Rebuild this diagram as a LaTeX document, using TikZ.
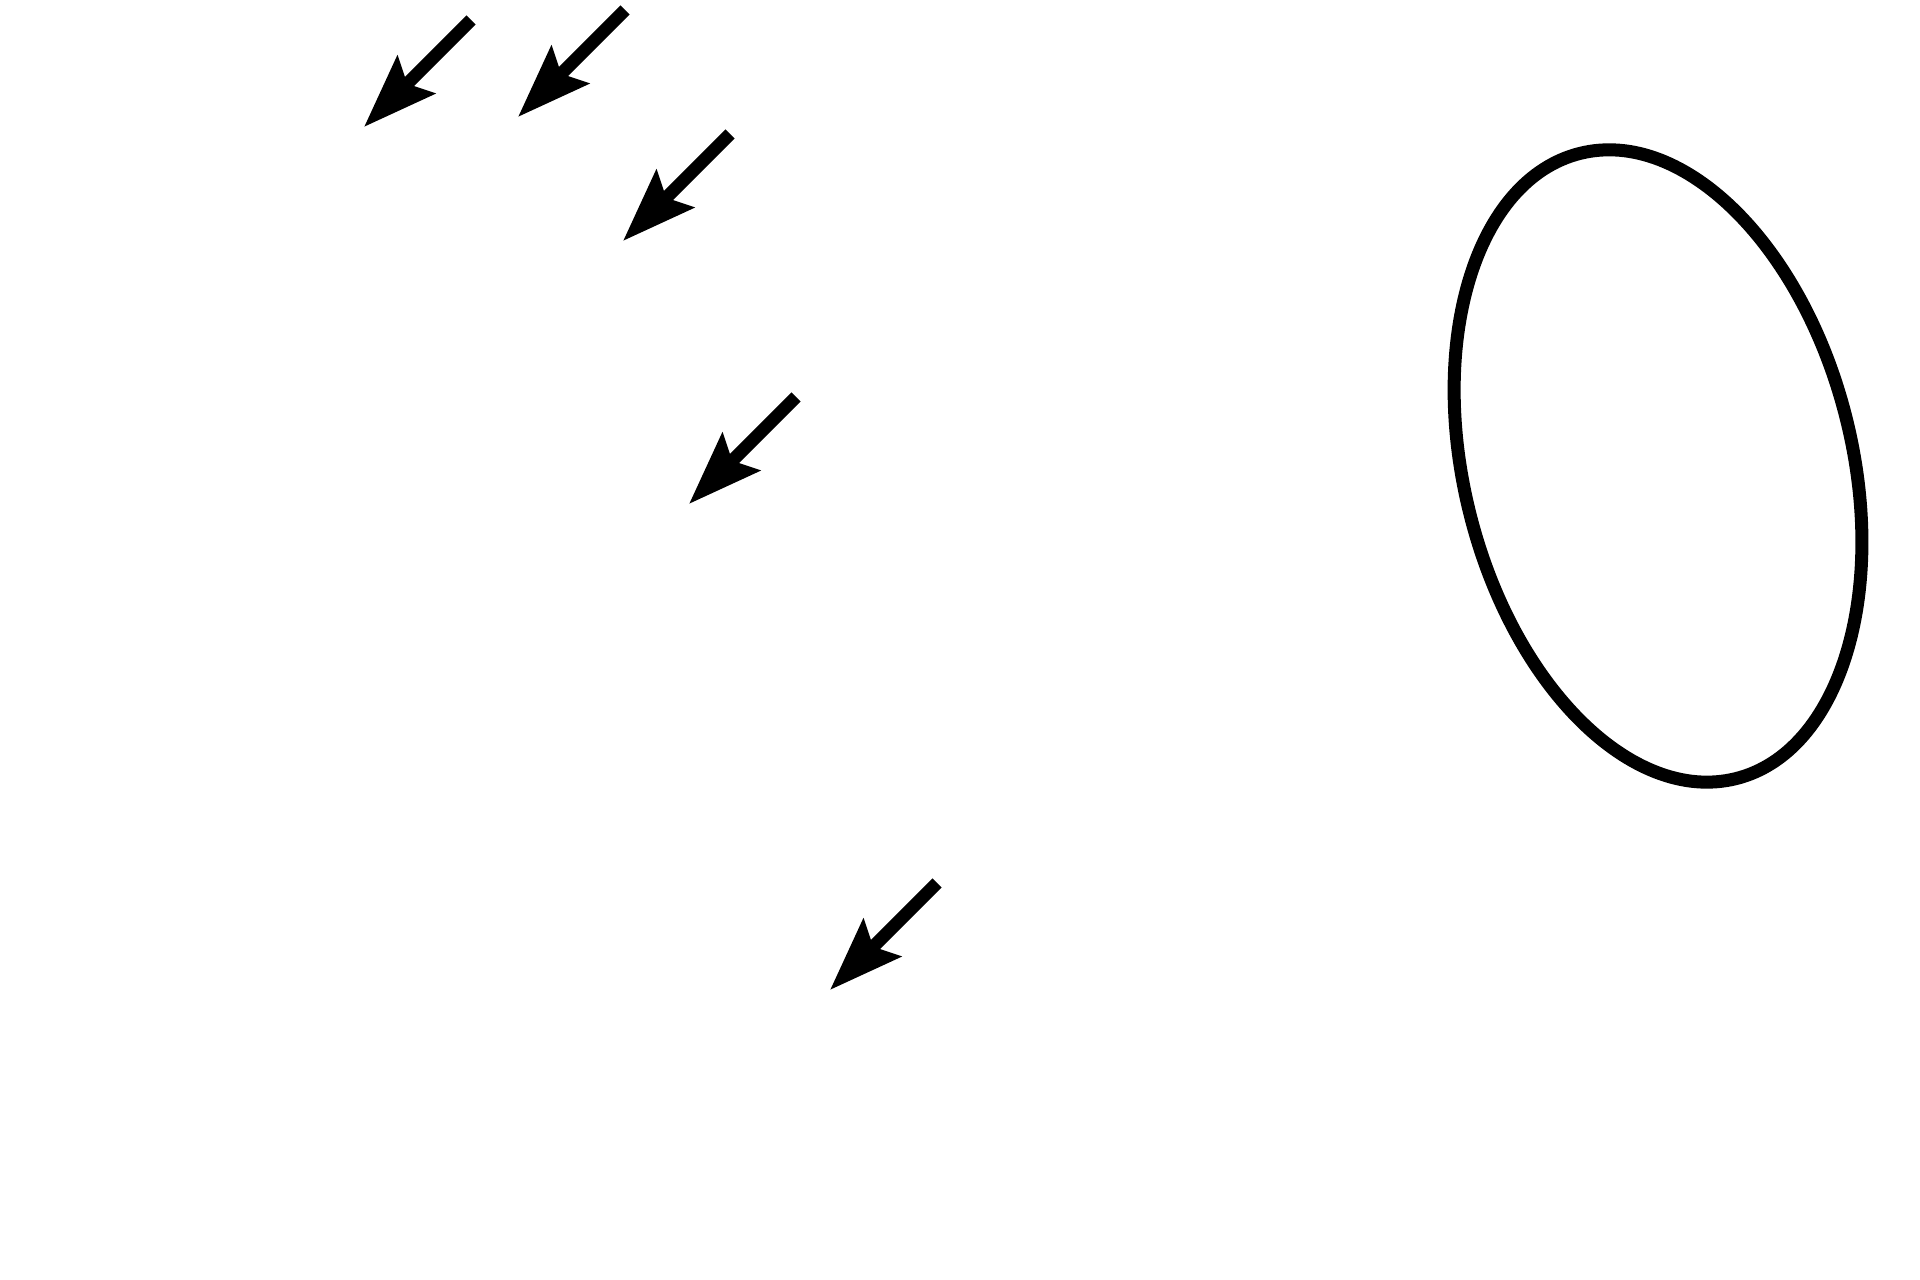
\documentclass[tikz,border=0pt]{standalone}
\usepackage{tikz}
\usetikzlibrary{arrows.meta}
\usetikzlibrary{positioning}

\begin{document}
\begin{tikzpicture}[x=0.01cm, y=-0.01cm,
    ray/.style={line width=0.13cm, -{Stealth[length=0.73cm, width=0.52cm, inset=0.12cm]}},
    rim/.style={line width=0.13cm}]

    % Canvas
    \useasboundingbox (0,0) rectangle (1920,1280);

    % Incoming arrows
    \foreach \x/\y [count=\i] in {471/20, 625/10, 730/134, 796/397, 937/883} {
        \coordinate (tail\i) at (\x,\y);
        \coordinate (tip\i) at (\x-107,\y+107);
        \draw[ray] (tail\i) -- (tip\i);
    }

    % Loop on the right
    \coordinate (loop) at (1658,466);
    \draw[rim, rotate around={14:(loop)}] (loop) ellipse [x radius=1.94cm, y radius=3.22cm];

\end{tikzpicture}
\end{document}
